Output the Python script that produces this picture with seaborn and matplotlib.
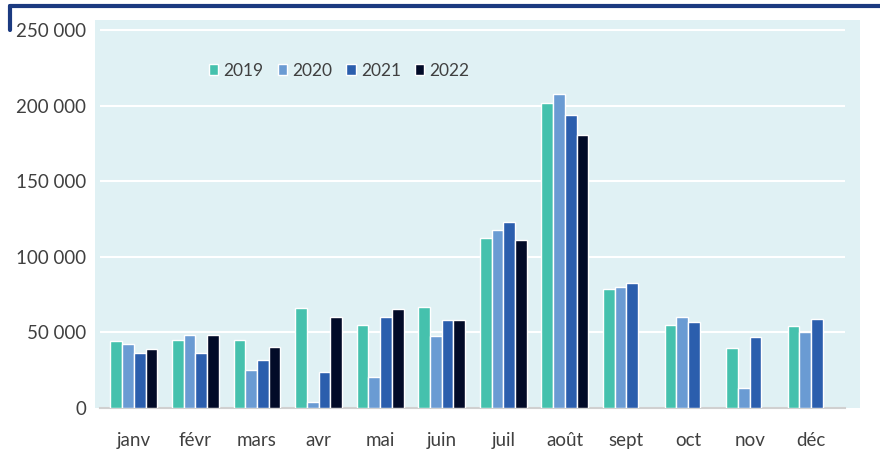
import matplotlib
matplotlib.use("Agg")
import matplotlib.pyplot as plt
import numpy as np
import pandas as pd
import seaborn as sns
from matplotlib.patches import Rectangle
from matplotlib.lines import Line2D
from matplotlib.ticker import FuncFormatter

months = ["janv", "févr", "mars", "avr", "mai", "juin", "juil", "août", "sept", "oct", "nov", "déc"]
years = ["2019", "2020", "2021", "2022"]
v2019 = [44500, 45000, 45000, 66000, 55000, 66500, 112400, 201400, 78600, 55100, 40000, 54500]
v2020 = [42500, 48000, 25000, 4000, 20500, 47500, 117500, 207400, 80300, 60000, 13500, 50500]
v2021 = [36500, 36500, 31500, 23500, 60500, 58500, 122800, 194100, 82800, 56900, 46700, 59100]
v2022 = [39000, 48500, 40500, 60000, 65500, 58500, 111300, 180800, np.nan, np.nan, np.nan, np.nan]
colors = ["#45C1AD", "#6A9BD3", "#2B5EAD", "#020B28"]

df = pd.DataFrame({
    "mois": months * 4,
    "annee": sum([[y] * 12 for y in years], []),
    "valeur": v2019 + v2020 + v2021 + v2022,
})

sns.set_style("white")
plt.rcParams["font.family"] = ["Lato", "DejaVu Sans"]

fig = plt.figure(figsize=(8.8, 4.5), dpi=100)
# plot area background (slightly wider than the axes)
fig.patches.append(Rectangle((95 / 880, 1 - 408 / 450), 765 / 880, 388 / 450,
                             transform=fig.transFigure, facecolor="#E0F1F4",
                             edgecolor="none", zorder=-5))
# dark blue frame at top
fig.lines.append(Line2D([10 / 880, 1], [1 - 6 / 450] * 2, transform=fig.transFigure,
                        color="#1B3A80", lw=3))
fig.lines.append(Line2D([10 / 880] * 2, [1 - 6 / 450, 1 - 30 / 450], transform=fig.transFigure,
                        color="#1B3A80", lw=3))

ax = fig.add_axes([100 / 880, 1 - 408 / 450, 745 / 880, 388 / 450])
ax.set_facecolor("none")

sns.barplot(data=df, x="mois", y="valeur", hue="annee", palette=colors, saturation=1,
            width=0.76, edgecolor="white", linewidth=1, ax=ax, zorder=3)

ax.set_ylim(0, 256600)
ax.set_yticks(np.arange(0, 250001, 50000))
ax.yaxis.set_major_formatter(FuncFormatter(lambda v, p: f"{int(v):,}".replace(",", " ")))
ax.grid(axis="y", color="white", lw=1.5, zorder=1)
ax.set_axisbelow(True)
for s in ["top", "right", "left"]:
    ax.spines[s].set_visible(False)
ax.spines["bottom"].set_color("#D0D0D0")
ax.spines["bottom"].set_linewidth(1.5)
ax.set_xlabel("")
ax.set_ylabel("")
ax.tick_params(axis="both", length=0, labelsize=13.5, colors="#404040")
ax.tick_params(axis="x", pad=17)
ax.tick_params(axis="y", pad=10)
ax.set_xlim(-0.55, 11.55)

leg = ax.legend(loc="upper left", bbox_to_anchor=(0.125, 0.93), ncol=4, frameon=False,
                handlelength=0.55, handleheight=0.55, handletextpad=0.3, columnspacing=0.8,
                fontsize=12.5)
for t in leg.get_texts():
    t.set_color("#404040")

fig.savefig("out.png", dpi=100)
